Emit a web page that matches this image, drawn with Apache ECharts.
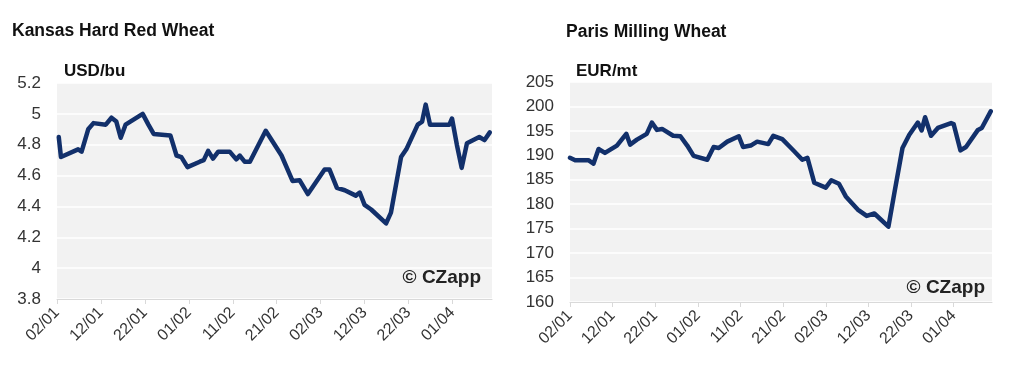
<!DOCTYPE html>
<html>
<head>
<meta charset="utf-8">
<script src="https://cdn.jsdelivr.net/npm/echarts@6/dist/echarts.min.js"></script>
<style>
html,body{margin:0;padding:0;background:#fff;}
#chart{width:1024px;height:382px;}
</style>
</head>
<body>
<div id="chart"></div>
<script>
// x values are days since 02/01
var tickLabels = ['02/01','12/01','22/01','01/02','11/02','21/02','02/03','12/03','22/03','01/04'];

var ksDays = [0.4,0.9,4.8,5.6,7.1,8.3,11.1,12.4,13.5,14.5,15.6,19.5,20.8,22,25.8,27.2,28.3,29.7,32.5,33.4,34.4,35.5,36.7,39.3,40.8,41.6,42.7,43.9,47.5,51.1,53.6,55.2,57.1,60.9,62,63.7,65.5,68,68.9,70,71.5,74.9,76,78.3,79.5,82.1,83.1,83.9,84.9,89.3,89.9,91,92.1,93.3,96.1,97.3,98.5];
var ksPrices = [4.85,4.72,4.77,4.755,4.90,4.94,4.93,4.975,4.95,4.845,4.93,5.00,4.93,4.87,4.86,4.73,4.72,4.655,4.69,4.70,4.76,4.71,4.755,4.755,4.705,4.73,4.69,4.69,4.89,4.73,4.565,4.57,4.48,4.64,4.64,4.52,4.505,4.47,4.49,4.41,4.38,4.29,4.36,4.72,4.77,4.93,4.95,5.06,4.93,4.93,4.97,4.80,4.65,4.81,4.85,4.83,4.88];

var paDays = [0,1.2,4.3,5.5,6.7,8.2,11,13.2,14.1,15.7,18,19.2,20.4,21.6,24.2,25.9,27.5,29,32.2,33.7,34.9,36.9,39.6,40.6,42.4,43.9,46.5,47.7,49.8,52.2,54.5,55.7,57.3,60,61.3,63.1,64.7,67.5,69.6,71.4,74.7,76.1,78,79.6,81.6,82.5,83.3,84.7,86.3,89.4,90,91.6,92.9,95.7,96.6,98.7];
var paPrices = [189.5,189.0,189.0,188.3,191.3,190.5,192.0,194.4,192.2,193.2,194.4,196.7,195.2,195.4,194.0,193.9,192.0,189.9,189.1,191.7,191.5,192.8,193.9,191.7,192.0,192.8,192.3,194.0,193.3,191.2,189.1,189.5,184.4,183.4,184.9,184.2,181.6,178.9,177.6,178.1,175.4,182.3,191.5,194.2,196.7,195.1,197.8,194.0,195.6,196.6,196.4,191.0,191.7,195.2,195.6,199.0];

function pairs(xs, ys){ return xs.map(function(x,i){ return [x, ys[i]]; }); }

var txt = '#333333';
var font = 'Liberation Sans, Arial, Helvetica, sans-serif';

function xAxis(gi){
  return {
    type:'value', gridIndex:gi, min:0, max:99, interval:10,
    axisLine:{show:true, lineStyle:{color:'#d9d9d9', width:1}},
    axisTick:{show:true, length:5, lineStyle:{color:'#d9d9d9'}},
    splitLine:{show:false},
    axisLabel:{
      rotate:45, margin:11, fontSize:16, color:txt, fontFamily:font,
      showMaxLabel:false,
      formatter:function(v){ var i = Math.round(v/10); return (Math.abs(v - i*10) < 1e-6 && tickLabels[i]) ? tickLabels[i] : ''; }
    }
  };
}
function yAxis(gi, min, max, interval, fmt){
  return {
    type:'value', gridIndex:gi, min:min, max:max, interval:interval,
    axisLine:{show:false}, axisTick:{show:false},
    splitLine:{show:true, lineStyle:{color:'#ffffff', width:1.5}},
    axisLabel:{margin:16, fontSize:17, color:txt, fontFamily:font, formatter:fmt}
  };
}

var chart = echarts.init(document.getElementById('chart'), null, {renderer:'canvas'});
chart.setOption({
  animation:false,
  backgroundColor:'#ffffff',
  title:[
    {text:'Kansas Hard Red Wheat', left:7, top:17, textStyle:{fontSize:17.5, fontWeight:'bold', color:'#111', fontFamily:font}},
    {text:'Paris Milling Wheat', left:561, top:18, textStyle:{fontSize:17.5, fontWeight:'bold', color:'#111', fontFamily:font}}
  ],
  grid:[
    {left:57, right:532, top:83, bottom:83, show:true, backgroundColor:'#f2f2f2', borderWidth:0},
    {left:570, right:32, top:82, bottom:80, show:true, backgroundColor:'#f2f2f2', borderWidth:0}
  ],
  xAxis:[xAxis(0), xAxis(1)],
  yAxis:[
    yAxis(0, 3.8, 5.2, 0.2, function(v){ return String(Math.round(v*10)/10); }),
    yAxis(1, 160, 205, 5, function(v){ return String(v); })
  ],
  series:[
    {type:'line', xAxisIndex:0, yAxisIndex:0, data:pairs(ksDays, ksPrices), showSymbol:false, symbol:'none',
     lineStyle:{color:'#12306b', width:4.5, join:'round', cap:'round'}},
    {type:'line', xAxisIndex:1, yAxisIndex:1, data:pairs(paDays, paPrices), showSymbol:false, symbol:'none',
     lineStyle:{color:'#12306b', width:4.5, join:'round', cap:'round'}}
  ],
  graphic:[
    {type:'text', left:64, top:63, style:{text:'USD/bu', font:'bold 17px '+font, fill:'#111'}},
    {type:'text', left:576, top:63, style:{text:'EUR/mt', font:'bold 17px '+font, fill:'#111'}},
    {type:'text', x:481, y:278, style:{text:'© CZapp', font:'bold 19px '+font, fill:'#222', align:'right', verticalAlign:'middle'}},
    {type:'text', x:985, y:288, style:{text:'© CZapp', font:'bold 19px '+font, fill:'#222', align:'right', verticalAlign:'middle'}}
  ]
});
</script>
</body>
</html>
